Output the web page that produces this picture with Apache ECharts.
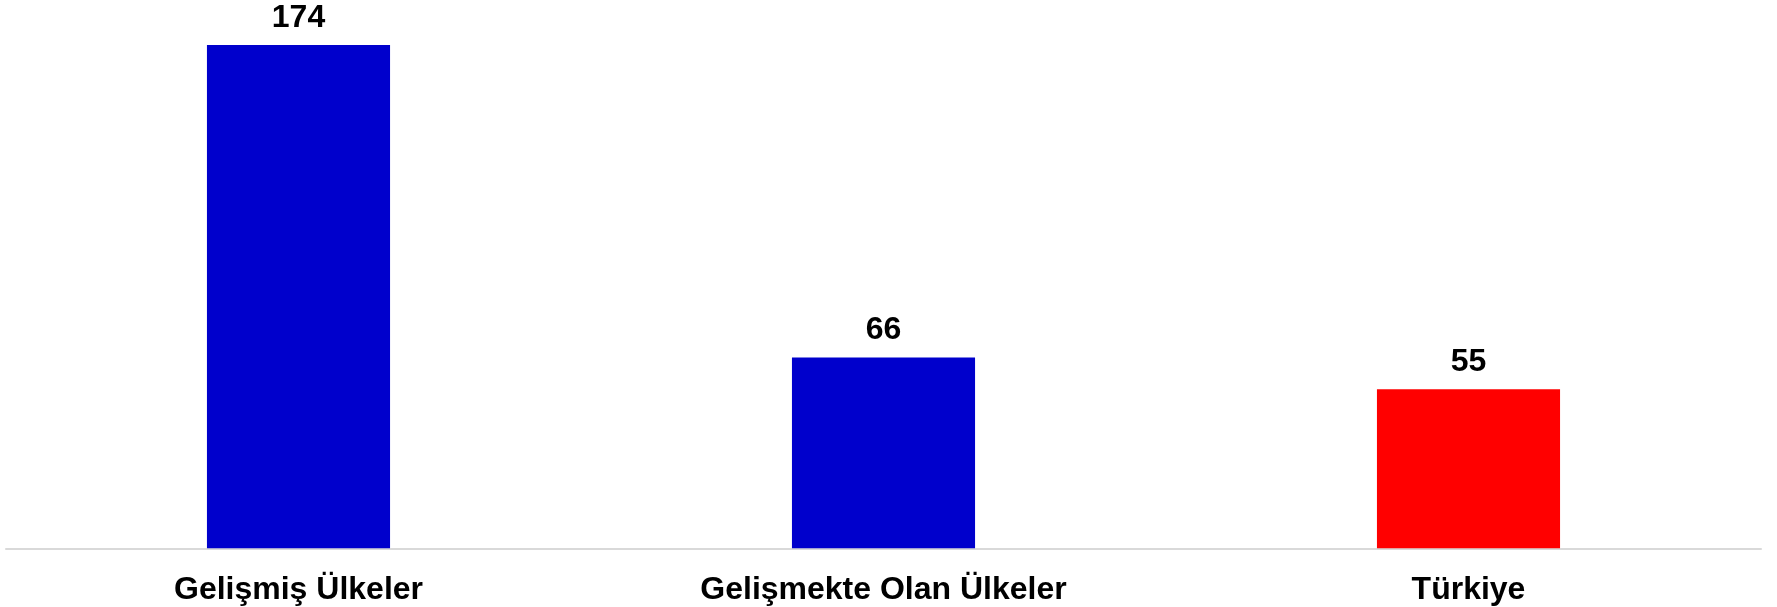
<!DOCTYPE html>
<html>
<head>
<meta charset="utf-8">
<script src="https://cdn.jsdelivr.net/npm/echarts@6/dist/echarts.min.js"></script>
<style>
  html, body { margin: 0; padding: 0; background: #ffffff; }
  #chart { width: 1777px; height: 607px; }
</style>
</head>
<body>
<div id="chart"></div>
<script>
// Group names and their values
const categories = ['Gelişmiş Ülkeler', 'Gelişmekte Olan Ülkeler', 'Türkiye'];
const values = [174, 66, 55];
const barColors = ['#0000CC', '#0000CC', '#FF0000'];

const chart = echarts.init(document.getElementById('chart'));

chart.setOption({
  backgroundColor: '#ffffff',
  animation: false,
  grid: { left: 6, right: 16, top: 27.7, bottom: 58.7, containLabel: false },
  xAxis: {
    type: 'category',
    data: categories,
    axisLine: { show: true, lineStyle: { color: '#d9d9d9', width: 2 } },
    axisTick: { show: false },
    axisLabel: {
      margin: 26,
      color: '#000000',
      fontFamily: 'Liberation Sans, Arial, sans-serif',
      fontWeight: 'bold',
      fontSize: 32
    }
  },
  yAxis: {
    type: 'value',
    min: 0,
    max: 180,
    show: false,
    splitLine: { show: false }
  },
  series: [{
    type: 'bar',
    barWidth: '31.3%',
    data: values.map((v, i) => ({ value: v, itemStyle: { color: barColors[i] } })),
    label: {
      show: true,
      position: 'top',
      distance: 11,
      color: '#000000',
      fontFamily: 'Liberation Sans, Arial, sans-serif',
      fontWeight: 'bold',
      fontSize: 32
    }
  }]
});
</script>
</body>
</html>
